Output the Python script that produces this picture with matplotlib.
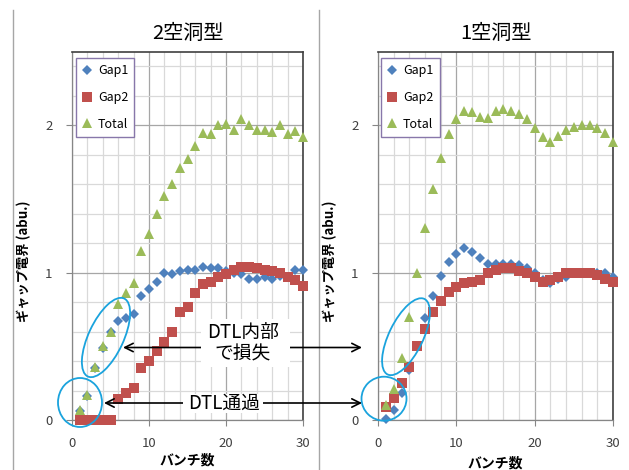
import matplotlib
matplotlib.use("Agg")
import matplotlib.pyplot as plt
from matplotlib.patches import Ellipse, FancyArrowPatch, Rectangle
from matplotlib.ticker import MultipleLocator

plt.rcParams["font.family"] = ["Noto Sans CJK JP", "DejaVu Sans"]

BLUE, RED, GREEN = "#4F81BD", "#C0504D", "#9BBB59"
CYAN = "#1AA3DD"

# bunch index on the x axis
bunch = list(range(1, 31))

# 2-cavity type
two_gap1 = [0.06, 0.16, 0.35, 0.49, 0.60, 0.67, 0.69, 0.72, 0.84, 0.89,
            0.94, 1.00, 0.99, 1.01, 1.02, 1.02, 1.04, 1.03, 1.03, 1.01,
            1.00, 0.99, 0.96, 0.955, 0.97, 0.955, 0.98, 0.97, 1.02, 1.02]
two_gap2 = [0.0, 0.0, 0.0, 0.0, 0.0, 0.14, 0.18, 0.22, 0.35, 0.40,
            0.47, 0.53, 0.60, 0.73, 0.77, 0.86, 0.92, 0.94, 0.97, 0.99,
            1.02, 1.04, 1.04, 1.03, 1.02, 1.01, 1.00, 0.97, 0.95, 0.91]
two_total = [0.07, 0.17, 0.36, 0.50, 0.60, 0.79, 0.86, 0.93, 1.15, 1.26,
             1.40, 1.52, 1.60, 1.71, 1.77, 1.86, 1.945, 1.94, 2.00, 2.01,
             1.97, 2.04, 2.00, 1.97, 1.97, 1.955, 2.00, 1.94, 1.96, 1.92]

# 1-cavity type
one_gap1 = [0.01, 0.07, 0.18, 0.34, 0.50, 0.69, 0.84, 0.98, 1.07, 1.13,
            1.165, 1.14, 1.10, 1.06, 1.06, 1.06, 1.06, 1.05, 1.03, 0.995,
            0.95, 0.93, 0.96, 0.97, 0.995, 1.00, 1.00, 1.00, 0.995, 0.97]
one_gap2 = [0.09, 0.147, 0.25, 0.36, 0.50, 0.62, 0.735, 0.81, 0.87, 0.905,
            0.93, 0.94, 0.95, 0.995, 1.02, 1.03, 1.03, 1.01, 1.00, 0.97,
            0.94, 0.95, 0.97, 1.00, 1.00, 1.00, 1.00, 0.985, 0.96, 0.94]
one_total = [0.10, 0.21, 0.42, 0.70, 1.00, 1.30, 1.57, 1.78, 1.94, 2.045,
             2.10, 2.09, 2.06, 2.05, 2.10, 2.11, 2.10, 2.08, 2.045, 1.98,
             1.92, 1.89, 1.93, 1.97, 1.99, 2.00, 2.00, 1.98, 1.945, 1.89]

x_ticks = [0, 10, 20, 30]
y_ticks = [0, 1, 2]

W, H = 629, 470
fig = plt.figure(figsize=(W / 100, H / 100), dpi=100)


def px_axes(x0, x1, y_top, y_bot):
    return fig.add_axes([x0 / W, 1 - y_bot / H, (x1 - x0) / W, (y_bot - y_top) / H])


def panel(ax, title, gap1, gap2, total, leg_x, xlab_y):
    ax.plot(bunch, gap1, ls="none", marker="D", ms=5.0, color=BLUE, mew=0,
            label="Gap1", clip_on=False, zorder=3)
    ax.plot(bunch, gap2, ls="none", marker="s", ms=7.0, color=RED, mew=0,
            label="Gap2", clip_on=False, zorder=4)
    ax.plot(bunch, total, ls="none", marker="^", ms=7.4, color=GREEN, mew=0,
            label="Total", clip_on=False, zorder=5)

    ax.set_xlim(0, 30)
    ax.set_ylim(0, 2.5)
    ax.set_xticks(x_ticks)
    ax.set_yticks(y_ticks)
    ax.xaxis.set_minor_locator(MultipleLocator(2))
    ax.yaxis.set_minor_locator(MultipleLocator(0.2))
    ax.grid(which="minor", color="#D9D9D9", lw=0.9)
    ax.grid(which="major", color="#A6A6A6", lw=0.9)
    ax.set_axisbelow(True)
    ax.tick_params(which="minor", length=0)
    ax.tick_params(which="major", length=4, width=0.8, color="#868686",
                   labelsize=9.5, labelcolor="#404040")
    ax.tick_params(axis="x", pad=8)
    ax.tick_params(axis="y", pad=10)
    for side in ("top", "right"):
        ax.spines[side].set_color("#404040")
        ax.spines[side].set_linewidth(1.2)
    for side in ("left", "bottom"):
        ax.spines[side].set_color("#868686")
        ax.spines[side].set_linewidth(0.9)

    ax.set_title(title, fontsize=14.5, pad=9)
    ax.set_xlabel("バンチ数", fontsize=10, fontweight="bold")
    ax.xaxis.set_label_coords(0.5, xlab_y)
    ax.set_ylabel("ギャップ電界 (abu.)", fontsize=9.5, fontweight="bold")
    ax.yaxis.set_label_coords(-0.175, 0.43)

    leg = ax.legend(loc="upper left", bbox_to_anchor=(leg_x, 0.983), fontsize=9,
                    fancybox=False, edgecolor="#8877AA", framealpha=1,
                    handlelength=0.8, handletextpad=0.45, labelspacing=1.1,
                    borderpad=0.5, borderaxespad=0)
    leg.get_frame().set_linewidth(1.0)
    leg.set_zorder(6)


ax_two = px_axes(72, 303, 51.7, 420)
ax_one = px_axes(378, 613, 51.7, 420)
panel(ax_two, "2空洞型", two_gap1, two_gap2, two_total, 0.017, -0.09)
panel(ax_one, "1空洞型", one_gap1, one_gap2, one_total, 0.013, -0.1)

# annotation layer in pixel coordinates (y down)
ov = fig.add_axes([0, 0, 1, 1], zorder=10)
ov.set_xlim(0, W)
ov.set_ylim(H, 0)
ov.axis("off")
ov.patch.set_alpha(0)

for xs in (12.5, 318.5):
    ov.plot([xs, xs], [10, H], color="#A6A6A6", lw=1)

ring = dict(fill=False, ec=CYAN, lw=1.3)
ov.add_patch(Ellipse((80, 402.5), 44, 49, **ring))
ov.add_patch(Ellipse((106, 337.5), 86, 35, angle=-65, **ring))
ov.add_patch(Ellipse((384, 398.7), 45, 44, **ring))
ov.add_patch(Ellipse((406, 336.7), 84, 34, angle=-64, **ring))

ov.add_patch(Rectangle((201, 319), 89, 48, fc="white", ec="none", zorder=3))
ov.text(243, 343, "DTL内部\nで損失", ha="center", va="center", fontsize=13.5,
        linespacing=1.05, zorder=4)
ov.add_patch(Rectangle((183, 394), 80, 19, fc="white", ec="none", zorder=3))
ov.text(224, 403.5, "DTL通過", ha="center", va="center", fontsize=13.5, zorder=4)

arrow = "->,head_length=6,head_width=3"
for start, end in [((203, 347.5), (123, 347.5)), ((290, 347.5), (362, 347.5)),
                   ((183, 403), (104, 403)), ((263, 403), (362, 403))]:
    ov.add_patch(FancyArrowPatch(start, end, arrowstyle=arrow, color="black",
                                 lw=1.2, shrinkA=0, shrinkB=0, zorder=2))

fig.savefig("out.png", dpi=100, facecolor="white")
